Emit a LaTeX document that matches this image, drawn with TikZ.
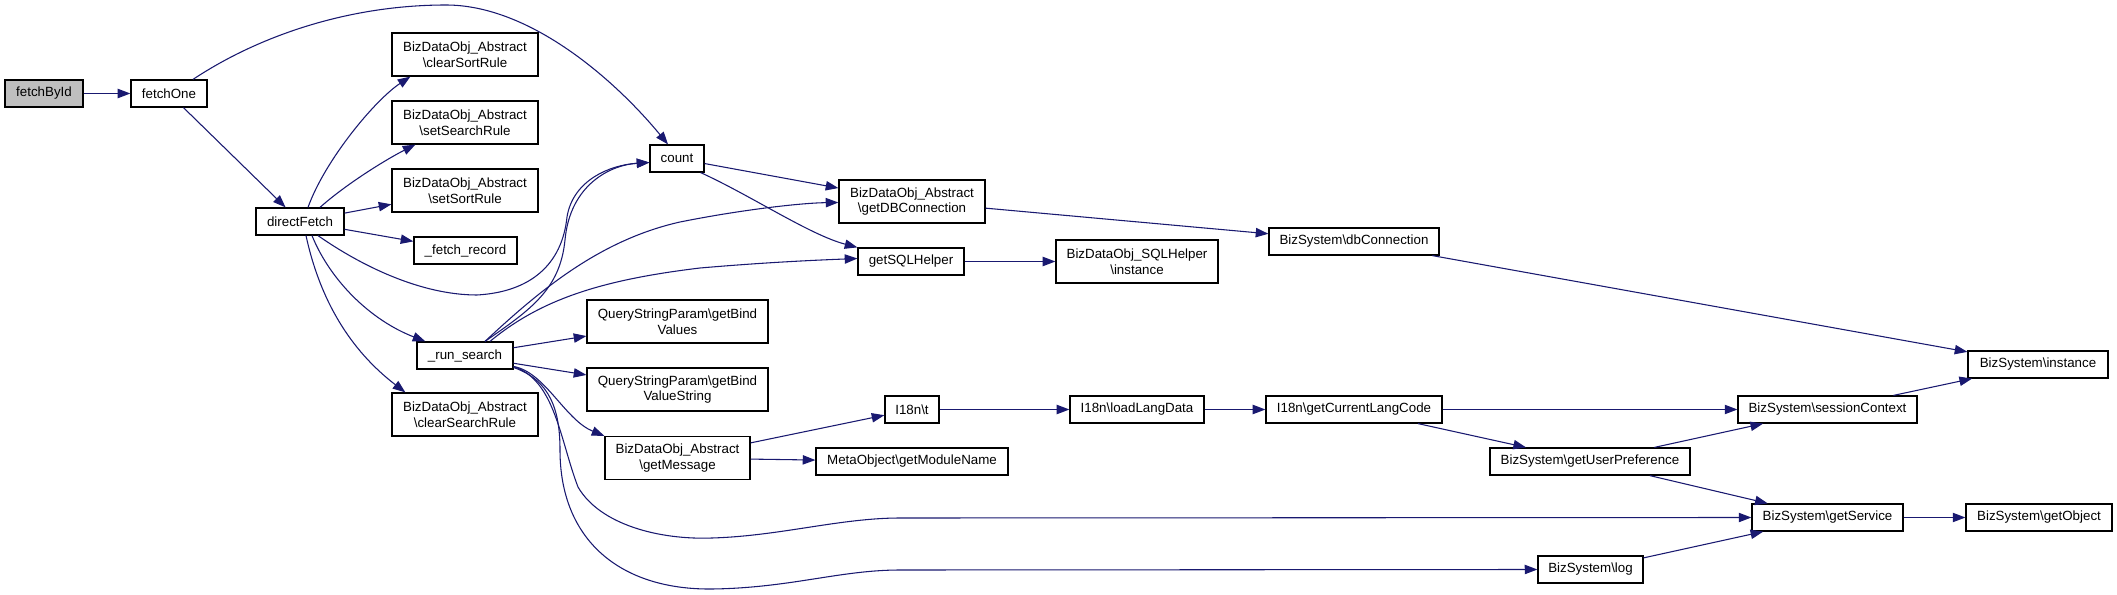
\documentclass[tikz,border=0pt]{standalone}
\usepackage{fontspec}
\setmainfont{Liberation Sans}
\usetikzlibrary{arrows.meta,calc}
\definecolor{edgeblue}{HTML}{191970}
\definecolor{startgray}{HTML}{BFBFBF}
\newcommand{\mybs}{\textbackslash}
\begin{document}
\begin{tikzpicture}[x=0.75pt,y=-0.75pt,
  fnbox/.style={draw=black, line width=0.9pt, fill=white, inner sep=0pt, align=center,
    font=\fontsize{10pt}{11.7pt}\selectfont},
  sz/.style 2 args={minimum width=#1*0.75pt, minimum height=#2*0.75pt},
  call/.style={draw=edgeblue, line width=0.8pt, -{Triangle[length=9.5pt,width=7pt]}},
]
\fill[white] (0,0) rectangle (2117,595);
\useasboundingbox (0,0) rectangle (2117,595);

% nodes
\node[fnbox,sz={78}{27},fill=startgray] (fb) at (44,93.5) {fetchById};
\node[fnbox,sz={76}{27}] (fo) at (169,93.5) {fetchOne};
\node[fnbox,sz={88}{27}] (df) at (300,221.5) {directFetch};
\node[fnbox,sz={146}{43}] (csr) at (465,54.5) {BizDataObj\_Abstract\\\mybs clearSortRule};
\node[fnbox,sz={146}{43}] (ssr) at (465,122.5) {BizDataObj\_Abstract\\\mybs setSearchRule};
\node[fnbox,sz={146}{43}] (sor) at (465,190.5) {BizDataObj\_Abstract\\\mybs setSortRule};
\node[fnbox,sz={103}{27}] (fr) at (465.5,250.5) {\_fetch\_record};
\node[fnbox,sz={96}{27}] (rs) at (465,355.5) {\_run\_search};
\node[fnbox,sz={146}{43}] (csh) at (465,414.5) {BizDataObj\_Abstract\\\mybs clearSearchRule};
\node[fnbox,sz={54}{27}] (cnt) at (677,158.5) {count};
\node[fnbox,sz={181}{43}] (gbv) at (677.5,321.5) {QueryStringParam\mybs getBind\\Values};
\node[fnbox,sz={181}{43}] (gbvs) at (677.5,389.5) {QueryStringParam\mybs getBind\\ValueString};
\node[fnbox,sz={145}{43}] (gm) at (677.5,458) {BizDataObj\_Abstract\\\mybs getMessage};
\node[fnbox,sz={146}{43}] (gdb) at (912,201.5) {BizDataObj\_Abstract\\\mybs getDBConnection};
\node[fnbox,sz={106}{27}] (gsh) at (911,261.5) {getSQLHelper};
\node[fnbox,sz={54}{27}] (it) at (912,409.5) {I18n\mybs t};
\node[fnbox,sz={192}{27}] (gmn) at (912,461.5) {MetaObject\mybs getModuleName};
\node[fnbox,sz={162}{43}] (shi) at (1137,261.5) {BizDataObj\_SQLHelper\\\mybs instance};
\node[fnbox,sz={134}{27}] (lld) at (1137,409.5) {I18n\mybs loadLangData};
\node[fnbox,sz={170}{27}] (dbc) at (1354,241.5) {BizSystem\mybs dbConnection};
\node[fnbox,sz={176}{27}] (glc) at (1354,409.5) {I18n\mybs getCurrentLangCode};
\node[fnbox,sz={105}{27}] (blog) at (1590.5,569.5) {BizSystem\mybs log};
\node[fnbox,sz={200}{27}] (gup) at (1590,461.5) {BizSystem\mybs getUserPreference};
\node[fnbox,sz={179}{27}] (sc) at (1827.5,409.5) {BizSystem\mybs sessionContext};
\node[fnbox,sz={151}{27}] (gs) at (1827.5,517.5) {BizSystem\mybs getService};
\node[fnbox,sz={140}{27}] (bi) at (2038,364.5) {BizSystem\mybs instance};
\node[fnbox,sz={146}{27}] (go) at (2039,517.5) {BizSystem\mybs getObject};

% edges
\draw[call] (fb) -- (fo);
\draw[call] (fo) -- (df);
\draw[call] ($(fo.north)+(24,0)$) .. controls (260,35) and (350,5) .. (446,5)
  .. controls (530,5) and (615,80) .. ($(cnt.north)+(-9,0)$);
\draw[call] ($(df.north)+(8,0)$) .. controls (325,160) and (375,100) .. ($(csr.south west)+(19,0)$);
\draw[call] ($(df.north)+(20,0)$) .. controls (345,185) and (385,160) .. ($(ssr.south west)+(24,0)$);
\draw[call] (df) -- (sor);
\draw[call] (df) -- (fr);
\draw[call] ($(df.south)+(18,0)$) .. controls (360,265) and (420,295) .. (477,295)
  .. controls (530,292) and (562,265) .. (567,217)
  .. controls (573,180) and (610,165) .. ($(cnt.west)+(0,4)$);
\draw[call] ($(df.south)+(12,0)$) .. controls (330,280) and (370,320) .. ($(rs.north west)+(9,0)$);
\draw[call] ($(df.south)+(6,0)$) .. controls (320,300) and (350,350) .. ($(csh.north west)+(14,0)$);

\draw[call] ($(rs.north)+(20,0)$) .. controls (530,310) and (560,290) .. (565,240)
  .. controls (570,185) and (610,165) .. ($(cnt.west)+(0,4)$);
\draw[call] ($(rs.north)+(20,0)$) .. controls (540,290) and (600,240) .. (680,222)
  .. controls (740,210) and (800,203) .. ($(gdb.west)+(0,1)$);
\draw[call] ($(rs.north)+(25,0)$) .. controls (540,300) and (600,280) .. (700,268)
  .. controls (770,262) and (820,260) .. ($(gsh.west)+(0,-3)$);
\draw[call] (rs) -- (gbv);
\draw[call] (rs) -- (gbvs);
\draw[call] ($(rs.east)+(0,11)$) .. controls (545,372) and (565,420) .. (gm.north west);
\draw[call] ($(rs.east)+(0,11)$) .. controls (555,380) and (560,440) .. (578,487)
  .. controls (600,525) and (660,540) .. (712,538)
  .. controls (780,536) and (840,518) .. (900,518) -- (gs.west);
\draw[call] ($(rs.east)+(0,12)$) .. controls (550,380) and (560,410) .. (560,450)
  .. controls (560,540) and (620,590) .. (712,589)
  .. controls (790,588) and (840,570) .. (900,570) -- (blog.west);

\draw[call] (cnt) -- (gdb);
\draw[call] ($(cnt.south east)+(-4,0)$) .. controls (750,195) and (810,235) .. (gsh.north west);
\draw[call] (gdb) -- (dbc);
\draw[call] (gsh) -- (shi);
\draw[call] (dbc) -- (bi);
\draw[call] (gm) -- (it);
\draw[call] (gm) -- (gmn);
\draw[call] (it) -- (lld);
\draw[call] (lld) -- (glc);
\draw[call] (glc) -- (sc);
\draw[call] (glc) -- (gup);
\draw[call] (gup) -- (sc);
\draw[call] (gup) -- (gs);
\draw[call] (sc) -- (bi);
\draw[call] (gs) -- (go);
\draw[call] (blog) -- (gs);
\end{tikzpicture}
\end{document}
